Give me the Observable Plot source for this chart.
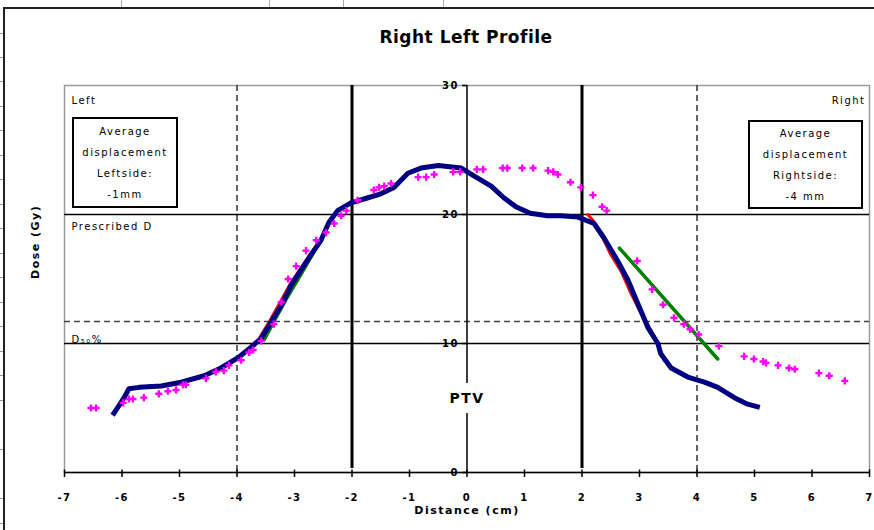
<!DOCTYPE html>
<html>
<head>
<meta charset="utf-8">
<script src="https://cdn.jsdelivr.net/npm/d3@7"></script>
<script src="https://cdn.jsdelivr.net/npm/@observablehq/plot@0.6"></script>
<style>
  html, body { margin: 0; padding: 0; background: #fff; }
  #wrap { position: relative; width: 874px; height: 530px; overflow: hidden; background: #fff; font-family: "DejaVu Sans", sans-serif; }
  #wrap svg { position: absolute; left: 0; top: 0; }
  .border-top { position: absolute; left: 3px; top: 7px; width: 871px; height: 2px; background: #222; }
  .border-left { position: absolute; left: 3px; top: 7px; width: 2px; height: 523px; background: #222; }
  .cell { position: absolute; top: 0; width: 1px; height: 7px; background: #aaa; }
  .rows { position: absolute; left: 0; top: 9px; width: 3px; height: 521px;
          background: repeating-linear-gradient(to bottom, transparent 0, transparent 23.5px, #999 23.5px, #999 24.5px); }
  .title { position: absolute; left: 316px; top: 26px; width: 300px; height: 22px; line-height: 22px;
           text-align: center; font-weight: bold; font-size: 17px; letter-spacing: 0.5px; color: #000; }
  .box { position: absolute; border: 2px solid #000; background: #fff; text-align: center;
         font-size: 10px; letter-spacing: 1.5px; color: #000; box-sizing: border-box; }
  .box div { height: 21px; line-height: 21px; }
</style>
</head>
<body>
<div id="wrap">
  <div class="rows"></div>
  <div class="cell" style="left:121px"></div>
  <div class="cell" style="left:269px"></div>
  <div class="cell" style="left:343px"></div>
  <div class="cell" style="left:443px"></div>
  <div class="border-top"></div>
  <div class="border-left"></div>
  <div class="title">Right Left Profile</div>
  <div class="box" style="left:72px; top:117px; width:106px; height:91px; padding-top:2px;">
    <div>Average</div><div>displacement</div><div>Leftside:</div><div>-1mm</div>
  </div>
  <div class="box" style="left:748px; top:120px; width:115px; height:89px; padding-top:1px;">
    <div>Average</div><div>displacement</div><div>Rightside:</div><div>-4 mm</div>
  </div>
</div>
<script>
// ---- data ----
const xTicks = [-7, -6, -5, -4, -3, -2, -1, 0, 1, 2, 3, 4, 5, 6, 7];
const yTicks = [0, 10, 20, 30];
const targetEdges = [-2, 2];          // PTV edges (thick solid)
const marginEdges = [-4, 4];          // dashed verticals
const doseLevels = [10, 20];          // D50% and prescribed dose
const dashedLevel = [11.7];           // dashed horizontal

// measured profile (navy)
const measured = [
  [-6.14,4.6],[-6.05,5.2],[-5.95,5.9],[-5.88,6.5],[-5.7,6.6],[-5.32,6.7],[-4.97,7.0],[-4.57,7.5],
  [-4.28,8.1],[-3.98,8.9],[-3.76,9.7],[-3.58,10.4],[-3.4,11.7],[-3.2,13.2],[-3.06,14.5],[-2.9,15.6],
  [-2.77,16.5],[-2.54,18.0],[-2.4,19.4],[-2.25,20.3],[-2.02,20.9],[-1.72,21.3],[-1.5,21.6],[-1.27,22.1],
  [-1.03,23.2],[-0.8,23.6],[-0.5,23.8],[-0.1,23.6],[0.12,23.0],[0.42,22.2],[0.64,21.3],[0.85,20.6],
  [1.1,20.1],[1.4,19.9],[1.63,19.9],[1.93,19.8],[2.21,19.3],[2.38,18.2],[2.62,16.4],[2.8,14.9],
  [2.97,13.1],[3.15,11.2],[3.32,10.0],[3.37,9.2],[3.55,8.1],[3.84,7.4],[4.13,7.0],[4.36,6.6],
  [4.65,5.8],[4.88,5.3],[5.05,5.1]
];

// reference profile (magenta crosses)
const reference = [
  [-6.54,5.0],[-6.45,5.0],[-5.98,5.4],[-5.88,5.7],[-5.81,5.7],[-5.62,5.8],[-5.36,6.1],[-5.2,6.3],
  [-5.06,6.4],[-4.94,6.8],[-4.89,6.8],[-4.54,7.3],[-4.37,7.8],[-4.23,7.9],[-4.14,8.3],[-3.93,8.7],
  [-3.79,9.3],[-3.72,9.5],[-3.58,10.2],[-3.36,11.5],[-3.23,13.2],[-3.11,15.0],[-2.97,16.0],[-2.8,17.2],
  [-2.62,18.0],[-2.45,18.6],[-2.31,19.3],[-2.19,19.9],[-2.1,20.3],[-1.9,21.1],[-1.62,21.9],[-1.53,22.1],
  [-1.44,22.2],[-1.32,22.4],[-0.85,22.9],[-0.71,22.9],[-0.57,23.1],[-0.24,23.3],[-0.12,23.3],[0.17,23.5],
  [0.28,23.5],[0.62,23.6],[0.7,23.6],[0.96,23.6],[1.15,23.6],[1.41,23.4],[1.5,23.3],[1.58,23.1],
  [1.8,22.5],[1.98,22.1],[2.19,21.5],[2.35,20.6],[2.43,20.3],[2.96,16.4],[3.22,14.2],[3.41,13.0],
  [3.6,12.0],[3.77,11.5],[3.88,11.1],[4.03,10.7],[4.38,9.8],[4.82,9.0],[4.99,8.8],[5.15,8.6],
  [5.2,8.5],[5.41,8.3],[5.6,8.1],[5.7,8.0],[6.12,7.7],[6.3,7.5],[6.57,7.1]
];

// penumbra fits
const redLeft = [[-3.6,10.5],[-3.45,11.6],[-3.25,13.2],[-3.05,14.8],[-2.85,16.1],[-2.65,17.4],[-2.55,18.0]];
const redRight = [[2.1,20.0],[2.2,19.5],[2.35,18.3],[2.5,16.9],[2.68,15.6],[2.85,13.9],[3.03,12.3],[3.2,11.0],[3.3,10.2],[3.43,8.7]];
const greenLeft = [[-3.52,10.3],[-3.33,11.9],[-3.13,13.5],[-2.93,15.0],[-2.72,16.6],[-2.57,17.8]];
const greenRight = [[2.65,17.4],[4.36,8.8]];

// ---- chart ----
const vTick = { draw(ctx) { ctx.moveTo(0, -3); ctx.lineTo(0, 4.5); } };
const hTick = { draw(ctx) { ctx.moveTo(-5, 0); ctx.lineTo(0, 0); } };
const px = d => d[0], py = d => d[1];

const chart = Plot.plot({
  width: 874,
  height: 530,
  marginLeft: 64,
  marginRight: 5,
  marginTop: 85,
  marginBottom: 58,
  x: { domain: [-7, 7], axis: null },
  y: { domain: [0, 30], axis: null },
  style: { background: "transparent", fontFamily: "DejaVu Sans, sans-serif", letterSpacing: "1.5px", color: "#000" },
  marks: [
    Plot.frame({ stroke: "#9a9a9a", strokeWidth: 1.5 }),
    Plot.ruleX(marginEdges, { stroke: "#333", strokeWidth: 1.5, strokeDasharray: "6,4" }),
    Plot.ruleY(dashedLevel, { stroke: "#444", strokeWidth: 1.5, strokeDasharray: "6,4" }),
    Plot.ruleY(doseLevels, { stroke: "#000", strokeWidth: 1.5 }),
    Plot.ruleX(targetEdges, { y1: 0, y2: 30, insetTop: -4, stroke: "#000", strokeWidth: 3 }),
    Plot.ruleX([0], { y1: 0, y2: 30, stroke: "#000", strokeWidth: 1.5 }),
    Plot.ruleY([0], { stroke: "#000", strokeWidth: 1.5 }),
    Plot.dot(xTicks, { x: d => d, y: 0, symbol: vTick, fill: "none", stroke: "#000", strokeWidth: 1.5 }),
    Plot.dot(yTicks, { x: 0, y: d => d, symbol: hTick, fill: "none", stroke: "#000", strokeWidth: 1.5 }),
    Plot.text(xTicks, { x: d => d, y: 0, dy: 25, text: d => String(d), fontSize: 10, fontWeight: "bold" }),
    Plot.text(yTicks, { x: 0, y: d => d, dx: -8, text: d => String(d), textAnchor: "end", fontSize: 10, fontWeight: "bold" }),
    // PTV label with white background gap
    Plot.text(["PTV"], { x: 0, frameAnchor: "bottom", dy: -70, fontSize: 14, fontWeight: "bold",
                         stroke: "white", strokeWidth: 20, fill: "#000" }),
    // profiles
    Plot.line(redLeft, { x: px, y: py, stroke: "#ff0000", strokeWidth: 3 }),
    Plot.line(redRight, { x: px, y: py, stroke: "#ff0000", strokeWidth: 3 }),
    Plot.line(greenLeft, { x: px, y: py, stroke: "#008000", strokeWidth: 3 }),
    Plot.line(greenRight, { x: px, y: py, stroke: "#008000", strokeWidth: 3.5 }),
    Plot.line(measured, { x: px, y: py, stroke: "#000080", strokeWidth: 5, strokeLinejoin: "round", strokeLinecap: "square" }),
    Plot.dot(reference, { x: px, y: py, symbol: "cross", r: 3, fill: "#ff00ff", stroke: "none" }),
    // annotations
    Plot.text(["Left"], { frameAnchor: "top-left", dx: 7, dy: 11, fontSize: 10 }),
    Plot.text(["Right"], { frameAnchor: "top-right", dx: -4, dy: 11, fontSize: 10 }),
    Plot.text(["Prescribed D"], { y: 20, frameAnchor: "left", dx: 7, dy: 8, lineAnchor: "top", textAnchor: "start", fontSize: 10 }),
    Plot.text(["D₅₀%"], { y: 10, frameAnchor: "left", dx: 7, dy: -1, lineAnchor: "bottom", textAnchor: "start", fontSize: 10 }),
    Plot.text(["Distance (cm)"], { frameAnchor: "bottom", dy: 41, fontSize: 11, fontWeight: "bold" }),
    Plot.text(["Dose (Gy)"], { frameAnchor: "left", dx: -29, rotate: -90, fontSize: 11, fontWeight: "bold" })
  ]
});
document.getElementById("wrap").insertBefore(chart, document.querySelector(".title"));
</script>
</body>
</html>
